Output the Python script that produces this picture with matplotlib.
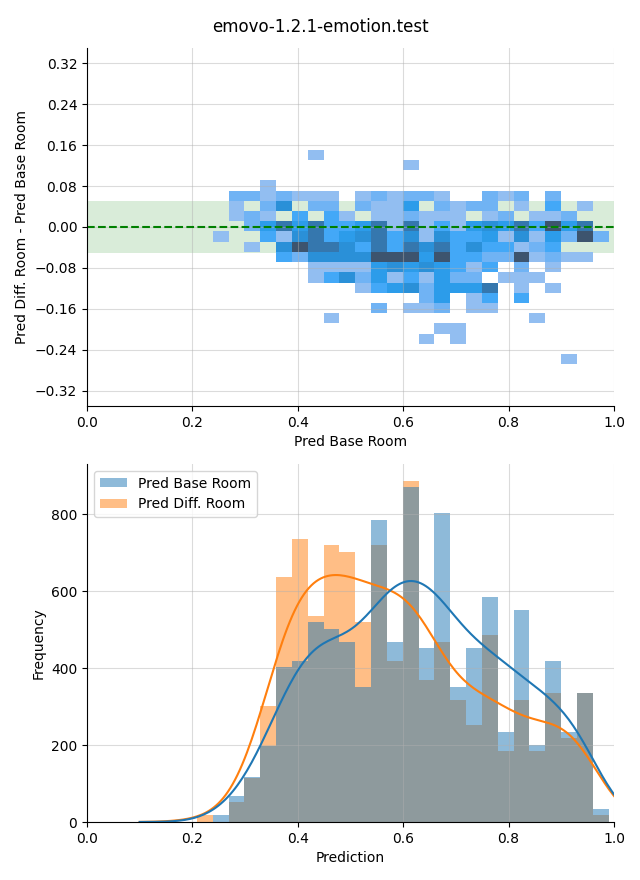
import numpy as np
import pandas as pd
import matplotlib
matplotlib.use("Agg")
import matplotlib.pyplot as plt
import seaborn as sns

title = "emovo-1.2.1-emotion.test"

# bin edges
x_edges = np.linspace(0.2385, 0.9899, 26)      # Pred Base Room (2d hist)
y_edges = np.linspace(-0.2683, 0.1509, 22)     # Diff - Base (2d hist)
hist_edges = np.linspace(0.2084, 0.9899, 27)   # Prediction (1d hist)

# 2d hist cell counts, top row (y ~ 0.14) first, one value per x bin
diff_counts = [
    [0, 0, 0, 0, 0, 0, 1, 0, 0, 0, 0, 0, 0, 0, 0, 0, 0, 0, 0, 0, 0, 0, 0, 0, 0],
    [0, 0, 0, 0, 0, 0, 0, 0, 0, 0, 0, 0, 1, 0, 0, 0, 0, 0, 0, 0, 0, 0, 0, 0, 0],
    [0, 0, 0, 0, 0, 0, 0, 0, 0, 0, 0, 0, 0, 0, 0, 0, 0, 0, 0, 0, 0, 0, 0, 0, 0],
    [0, 0, 0, 1, 0, 0, 0, 0, 0, 0, 0, 0, 0, 0, 0, 0, 0, 0, 0, 0, 0, 0, 0, 0, 0],
    [0, 2, 2, 1, 2, 1, 1, 1, 0, 1, 2, 1, 2, 2, 1, 0, 0, 2, 1, 2, 0, 2, 0, 0, 0],
    [0, 1, 0, 2, 5, 0, 2, 2, 0, 2, 1, 1, 4, 0, 2, 1, 2, 2, 0, 1, 0, 3, 0, 1, 0],
    [0, 1, 2, 1, 0, 3, 0, 3, 1, 0, 1, 1, 2, 1, 1, 1, 0, 1, 2, 0, 1, 1, 2, 0, 0],
    [0, 0, 2, 4, 7, 4, 7, 3, 3, 4, 7, 1, 7, 1, 3, 1, 4, 5, 4, 7, 3, 10, 4, 7, 0],
    [1, 0, 0, 3, 1, 5, 7, 3, 4, 5, 7, 3, 5, 1, 5, 3, 3, 4, 1, 5, 1, 4, 2, 10, 2],
    [0, 0, 1, 0, 5, 10, 7, 7, 5, 3, 7, 3, 7, 5, 7, 3, 5, 3, 3, 1, 2, 3, 0, 0, 0],
    [0, 0, 0, 0, 3, 2, 5, 5, 5, 5, 10, 10, 10, 4, 10, 3, 3, 2, 2, 10, 1, 2, 1, 1, 0],
    [0, 0, 0, 0, 0, 0, 1, 1, 1, 1, 4, 5, 4, 5, 4, 3, 1, 3, 0, 2, 0, 1, 0, 0, 0],
    [0, 0, 0, 0, 0, 0, 1, 3, 5, 2, 4, 1, 3, 1, 4, 2, 2, 0, 1, 1, 1, 0, 0, 0, 0],
    [0, 0, 0, 0, 0, 0, 0, 0, 0, 1, 3, 4, 5, 2, 4, 4, 4, 7, 0, 1, 0, 1, 0, 0, 0],
    [0, 0, 0, 0, 0, 0, 0, 0, 0, 0, 0, 0, 0, 2, 4, 0, 1, 3, 0, 3, 0, 0, 0, 0, 0],
    [0, 0, 0, 0, 0, 0, 0, 0, 0, 0, 2, 0, 1, 1, 2, 0, 1, 1, 0, 0, 0, 0, 0, 0, 0],
    [0, 0, 0, 0, 0, 0, 0, 1, 0, 0, 0, 0, 0, 0, 0, 0, 0, 0, 0, 0, 1, 0, 0, 0, 0],
    [0, 0, 0, 0, 0, 0, 0, 0, 0, 0, 0, 0, 0, 0, 1, 1, 0, 0, 0, 0, 0, 0, 0, 0, 0],
    [0, 0, 0, 0, 0, 0, 0, 0, 0, 0, 0, 0, 0, 1, 0, 1, 0, 0, 0, 0, 0, 0, 0, 0, 0],
    [0, 0, 0, 0, 0, 0, 0, 0, 0, 0, 0, 0, 0, 0, 0, 0, 0, 0, 0, 0, 0, 0, 0, 0, 0],
    [0, 0, 0, 0, 0, 0, 0, 0, 0, 0, 0, 0, 0, 0, 0, 0, 0, 0, 0, 0, 0, 0, 1, 0, 0],
]

# 1d histogram counts per bin
base_room_counts = [0, 18, 67, 116, 198, 402, 418, 519, 501, 467, 351, 784, 467,
                    870, 452, 803, 351, 452, 584, 234, 551, 200, 418, 234, 335, 34]
diff_room_counts = [18, 0, 53, 114, 301, 636, 735, 535, 719, 701, 519, 719, 418,
                    886, 369, 467, 318, 252, 486, 184, 318, 184, 335, 218, 335, 18]
labels = ["Pred Base Room", "Pred Diff. Room"]

fig = plt.figure(figsize=(6.4, 8.8), dpi=100)
ax1 = fig.add_axes([87 / 640, 474 / 880, 527 / 640, 358 / 880])
ax2 = fig.add_axes([87 / 640, 58 / 880, 527 / 640, 358 / 880])
fig.suptitle(title, fontsize=12)

# --- top: 2d histogram of the difference
ax1.axhspan(-0.05, 0.05, color="green", alpha=0.15, lw=0)
heat = np.array(diff_counts)[::-1]
xc = (x_edges[:-1] + x_edges[1:]) / 2
yc = (y_edges[:-1] + y_edges[1:]) / 2
gx, gy = np.meshgrid(xc, yc)
keep = heat > 0
sns.histplot(x=gx[keep], y=gy[keep], weights=heat[keep],
             bins=[x_edges, y_edges], ax=ax1)
ax1.axhline(0, color="green", ls="--", lw=1.5)
ax1.set_xlim(0, 1)
ax1.set_ylim(-0.35, 0.35)
ax1.set_yticks(np.arange(-0.32, 0.33, 0.08))
ax1.set_xlabel("Pred Base Room")
ax1.set_ylabel("Pred Diff. Room - Pred Base Room")
ax1.grid(True, alpha=0.45)

# --- bottom: overlaid histograms with kde
centers = (hist_edges[:-1] + hist_edges[1:]) / 2
df = pd.DataFrame({
    "Prediction": np.concatenate([centers, centers]),
    "count": base_room_counts + diff_room_counts,
    "room": [labels[0]] * len(centers) + [labels[1]] * len(centers),
})
sns.histplot(data=df, x="Prediction", weights="count", hue="room",
             hue_order=labels, bins=hist_edges.tolist(), kde=True, alpha=0.5,
             linewidth=0,
             kde_kws=dict(bw_adjust=0.52, cut=3, clip=(0.1, 1.0)), ax=ax2)
ax2.set_xlim(0, 1)
ax2.set_ylim(0, 930)
ax2.set_xlabel("Prediction")
ax2.set_ylabel("Frequency")
ax2.grid(True, alpha=0.45)
sns.move_legend(ax2, "upper left", title=None)

sns.despine(fig)
fig.savefig("out.png")
